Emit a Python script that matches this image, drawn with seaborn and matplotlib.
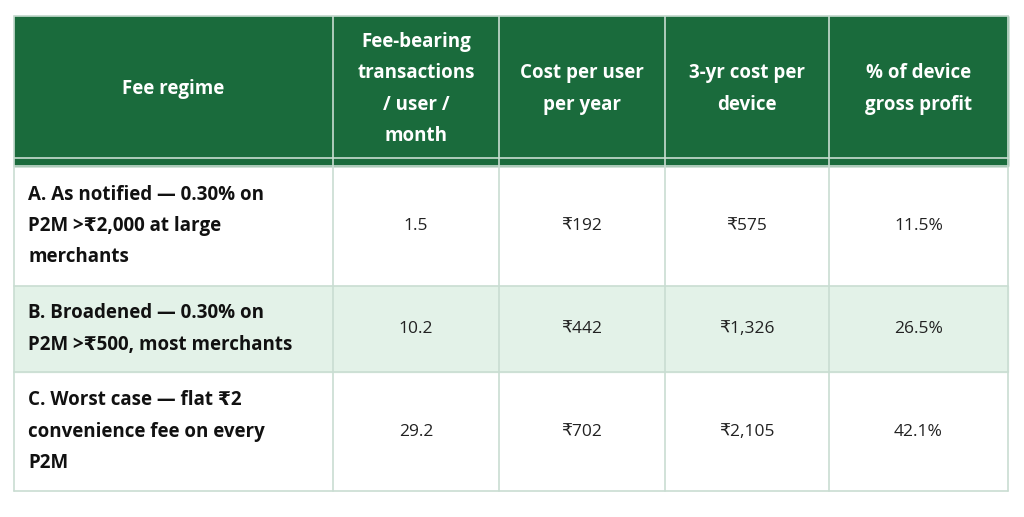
import matplotlib
matplotlib.use("Agg")
import matplotlib.pyplot as plt
import seaborn as sns
from matplotlib.patches import Rectangle

# Table content
headers = ["Fee regime", "Fee-bearing\ntransactions\n/ user /\nmonth", "Cost per user\nper year",
           "3-yr cost per\ndevice", "% of device\ngross profit"]
regimes = ["A. As notified \u2014 0.30% on\nP2M >\u20b92,000 at large\nmerchants",
           "B. Broadened \u2014 0.30% on\nP2M >\u20b9500, most merchants",
           "C. Worst case \u2014 flat \u20b92\nconvenience fee on every\nP2M"]
txn_per_month = ["1.5", "10.2", "29.2"]
cost_per_year = ["\u20b9192", "\u20b9442", "\u20b9702"]
cost_3yr = ["\u20b9575", "\u20b91,326", "\u20b92,105"]
pct_profit = ["11.5%", "26.5%", "42.1%"]

# Layout in pixels
col_edges = [14, 333, 499, 665, 829, 1008]
row_edges = [16, 158, 166, 286, 372, 491]
green = "#1a6b3c"
line = "#c9ddd2"
fam = ["Open Sans", "DejaVu Sans"]

sns.set_style("white")
fig = plt.figure(figsize=(10.24, 5.17), dpi=100)
ax = fig.add_axes([0, 0, 1, 1])
ax.set_xlim(0, 1024)
ax.set_ylim(517, 0)
ax.axis("off")

# header background
ax.add_patch(Rectangle((col_edges[0], row_edges[0]), col_edges[-1] - col_edges[0],
                       row_edges[2] - row_edges[0], color=green, zorder=1))
# row B shading
ax.add_patch(Rectangle((col_edges[0], row_edges[3]), col_edges[-1] - col_edges[0],
                       row_edges[4] - row_edges[3], color="#e3f2e8", zorder=1))

for x in col_edges:
    ax.plot([x, x], [row_edges[0], row_edges[-1]], color=line, lw=1.2, zorder=2)
for y in row_edges:
    ax.plot([col_edges[0], col_edges[-1]], [y, y], color=line, lw=1.2, zorder=2)

for i, h in enumerate(headers):
    cx = (col_edges[i] + col_edges[i + 1]) / 2
    cy = (row_edges[0] + row_edges[1]) / 2 + 2
    ax.text(cx, cy, h, color="white", fontsize=13.5, fontweight="bold", ha="center",
            va="center", linespacing=1.75, family=fam, zorder=3)

rows = list(zip(regimes, txn_per_month, cost_per_year, cost_3yr, pct_profit))
for r, vals in enumerate(rows):
    y0, y1 = row_edges[r + 2], row_edges[r + 3]
    cy = (y0 + y1) / 2
    for c, v in enumerate(vals):
        if c == 0:
            ax.text(col_edges[0] + 14, cy, v, fontsize=13.5, fontweight="bold", ha="left",
                    va="center", linespacing=1.75, color="#111111", family=fam, zorder=3)
        else:
            cx = (col_edges[c] + col_edges[c + 1]) / 2
            ax.text(cx, cy, v, fontsize=12.5, ha="center", va="center",
                    color="#222222", family=fam, zorder=3)

fig.savefig("out.png", dpi=100, facecolor="white")
